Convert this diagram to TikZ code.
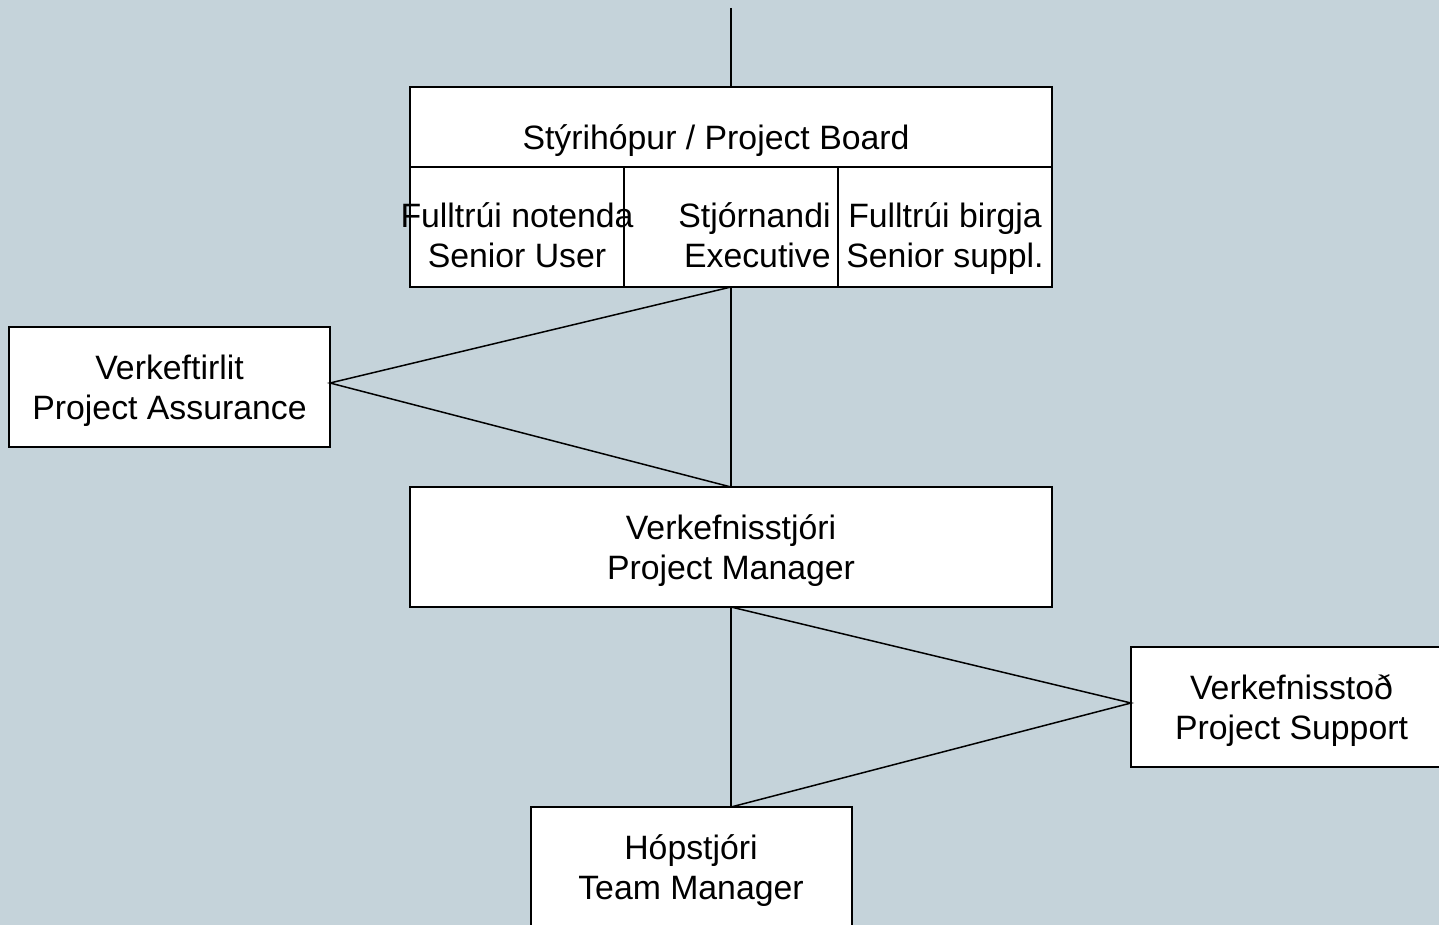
\documentclass[tikz,border=0pt]{standalone}
\usepackage{fontspec}
\setmainfont{Liberation Sans}
\usetikzlibrary{positioning,calc}
\definecolor{slatebg}{RGB}{197,211,218}

\begin{document}
\begin{tikzpicture}[x=0.5pt,y=-0.5pt,font=\fontsize{16.9}{20}\selectfont,
  role node/.style={rectangle,draw,fill=white,line width=1pt,inner sep=0pt,outer sep=0pt,align=center,text height=32pt,text depth=0pt,minimum width=160.5pt,minimum height=60pt},
  wide node/.style={role node,minimum width=321pt},
  cell text/.style={inner sep=0pt,align=center,text height=32pt,text depth=0pt},
  link/.style={line width=0.75pt}]

  \fill[slatebg] (0,0) rectangle (1439,925);
  \useasboundingbox (0,0) rectangle (1439,925);

  % board with its three cells
  \node[wide node,minimum height=100pt] (board) at (731,187) {};
  \node[inner sep=0pt] (title) at (716,141) {Stýrihópur / Project Board};
  \draw[link] ($(board.west)+(0,-20)$) -- ($(board.east)+(0,-20)$);
  \draw[link] ($(board.south)+(-107,0)$) -- ++(0,-120);
  \draw[link] ($(board.south)+(107,0)$) -- ++(0,-120);
  \node[cell text] (user) at (517,235) {Fulltrúi notenda\\Senior User};
  \node[cell text,align=right,anchor=east] (exec) at (831,235) {Stjórnandi\\Executive};
  \node[cell text] (supplier) at (945,235) {Fulltrúi birgja\\Senior suppl.};

  \node[role node] (assurance) at (169.5,387) {Verkeftirlit\\Project Assurance};
  \node[wide node] (manager) at (731,547) {Verkefnisstjóri\\Project Manager};
  \node[role node] (support) at (1291.5,707) {Verkefnisstoð\\Project Support};
  \node[role node] (team) at (691,867) {Hópstjóri\\Team Manager};

  \coordinate (top) at (731,8);

  \draw[link] (top) -- (board.north);
  \draw[link] (board.south) -- (manager.north);
  \draw[link] (board.south) -- ($(assurance.east)+(0,-4)$) -- (manager.north);
  \draw[link] (manager.south) -- ($(team.north)+(40,0)$);
  \draw[link] (manager.south) -- ($(support.west)+(0,-4)$) -- ($(team.north)+(40,0)$);
\end{tikzpicture}
\end{document}
